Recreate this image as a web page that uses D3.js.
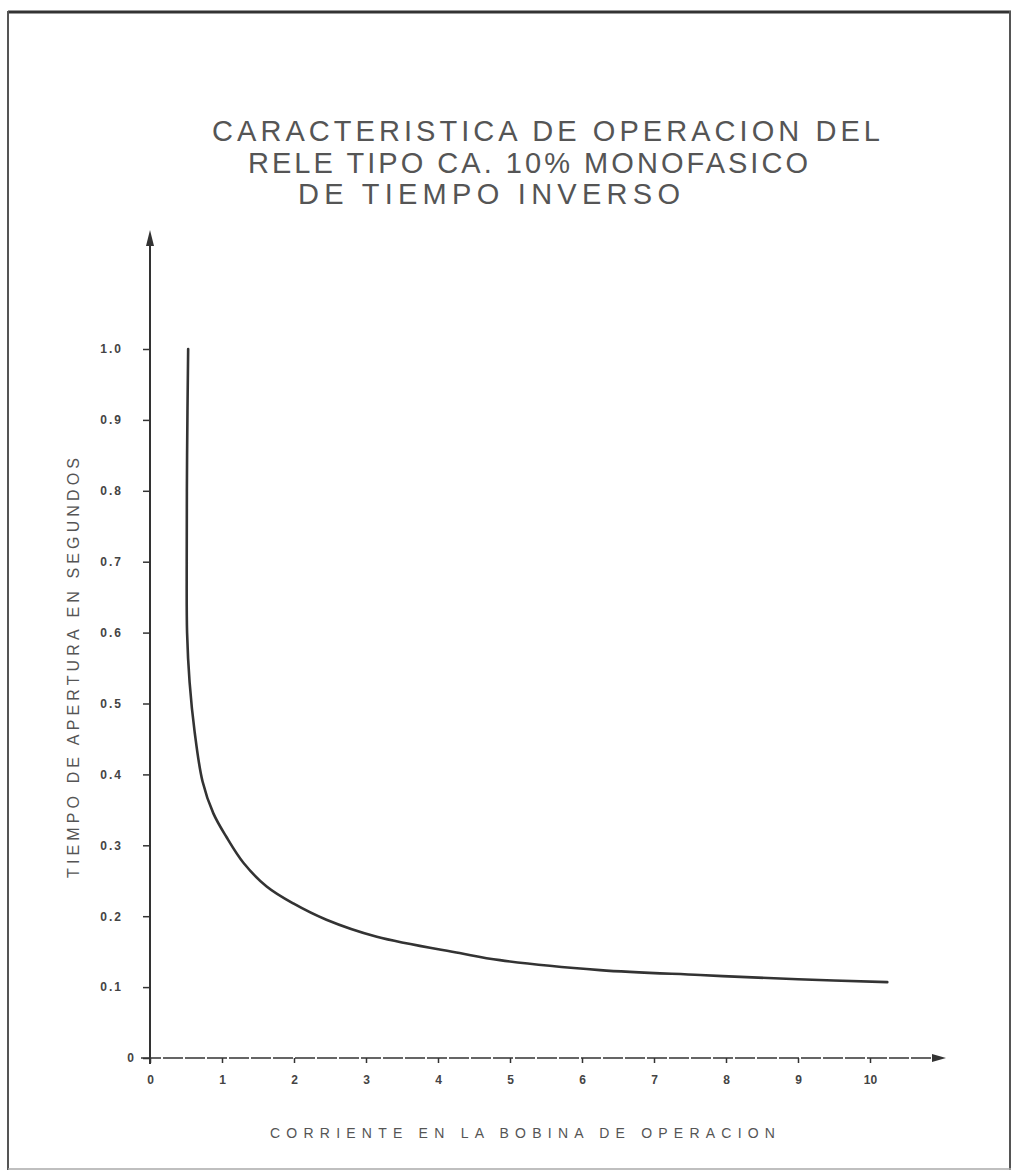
<!DOCTYPE html>
<html><head><meta charset="utf-8">
<script src="https://cdn.jsdelivr.net/npm/d3@7"></script>
<style>html,body{margin:0;padding:0;background:#fff;}svg{display:block;}</style>
</head><body>
<script>
// Data
const corriente = [0.53, 0.515, 0.51, 0.515, 0.55, 0.62, 0.73, 0.88, 1.06, 1.3, 1.62, 1.99, 2.45, 3.15, 4.3, 4.86, 6.25, 7.64, 9.0, 10.24];
const tiempo    = [1.0, 0.85, 0.7, 0.6, 0.53, 0.46, 0.39, 0.345, 0.312, 0.275, 0.242, 0.218, 0.195, 0.171, 0.148, 0.138, 0.124, 0.117, 0.111, 0.107];
const xTicks = [0,1,2,3,4,5,6,7,8,9,10];
const xTickLabels = ["0","1","2","3","4","5","6","7","8","9","10"];
const yTicks = [0,0.1,0.2,0.3,0.4,0.5,0.6,0.7,0.8,0.9,1.0];
const yTickLabels = ["0","0.1","0.2","0.3","0.4","0.5","0.6","0.7","0.8","0.9","1.0"];
const titleLines = ["CARACTERISTICA  DE  OPERACION  DEL", "RELE  TIPO  CA.  10%  MONOFASICO", "DE  TIEMPO  INVERSO"];
const xLabel = "CORRIENTE  EN  LA  BOBINA  DE  OPERACION";
const yLabel = "TIEMPO  DE  APERTURA  EN  SEGUNDOS";

const W = 1015, H = 1176;
const svg = d3.select("body").append("svg").attr("width", W).attr("height", H);

// page frame
svg.append("line").attr("x1",8).attr("x2",1011).attr("y1",12).attr("y2",12).attr("stroke","#333").attr("stroke-width",3);
svg.append("line").attr("x1",8).attr("x2",8).attr("y1",11).attr("y2",1170).attr("stroke","#555").attr("stroke-width",2);
svg.append("line").attr("x1",1010).attr("x2",1010).attr("y1",11).attr("y2",1170).attr("stroke","#555").attr("stroke-width",2);
svg.append("line").attr("x1",8).attr("x2",1011).attr("y1",1169).attr("y2",1169).attr("stroke","#aaa").attr("stroke-width",1.5);

const x = d3.scaleLinear().domain([0,10]).range([150, 870]);
const y = d3.scaleLinear().domain([0,1]).range([1058, 349]);

const font = "'Liberation Sans', Arial, sans-serif";

// title
const titleY = [141, 173, 204];
const titleX = [[212, 880], [248, 808], [298, 680]];
titleLines.forEach((t,i)=>{
  svg.append("text").attr("x", titleX[i][0]).attr("y", titleY[i])
    .attr("textLength", titleX[i][1]-titleX[i][0]).attr("lengthAdjust","spacing")
    .attr("font-family", font).attr("font-size", 29).attr("fill","#555")
    .text(t);
});

// axes lines
const axisColor = "#333";
svg.append("line").attr("x1", x(0)).attr("x2", x(0)).attr("y1", 240).attr("y2", y(0)+6)
  .attr("stroke", axisColor).attr("stroke-width", 2);
svg.append("path").attr("d", `M${x(0)},230 L${x(0)-4},246 L${x(0)+4},246 Z`).attr("fill", axisColor);
svg.append("line").attr("x1", x(0)-9).attr("x2", 935).attr("y1", y(0)).attr("y2", y(0))
  .attr("stroke", axisColor).attr("stroke-width", 1.6).attr("stroke-dasharray","20,2");
svg.append("path").attr("d", `M946,${y(0)} L932,${y(0)-4} L932,${y(0)+4} Z`).attr("fill", axisColor);

// y ticks
const yAxis = d3.axisLeft(y).tickValues(yTicks).tickSize(7).tickFormat((d,i)=>yTickLabels[i]).tickPadding(20);
const gy = svg.append("g").attr("transform", `translate(${x(0)},0)`).call(yAxis);
gy.select(".domain").remove();
gy.selectAll(".tick line").attr("stroke", axisColor).attr("stroke-width", 1.5);
gy.selectAll(".tick text").attr("font-family", font).attr("font-size", 12).attr("font-weight","bold")
  .attr("fill","#444").attr("letter-spacing", 2);
gy.selectAll(".tick").filter(d=>d===0).select("text").attr("x", -14);

// x ticks
const xAxis = d3.axisBottom(x).tickValues(xTicks).tickSize(5).tickFormat((d,i)=>xTickLabels[i]).tickPadding(12);
const gx = svg.append("g").attr("transform", `translate(0,${y(0)})`).call(xAxis);
gx.select(".domain").remove();
gx.selectAll(".tick line").attr("stroke", axisColor).attr("stroke-width", 1.5);
gx.selectAll(".tick text").attr("font-family", font).attr("font-size", 12).attr("font-weight","bold").attr("fill","#444");

// curve
const pts = corriente.map((c,i)=>[c, tiempo[i]]);
const line = d3.line().x(d=>x(d[0])).y(d=>y(d[1])).curve(d3.curveCatmullRom.alpha(0.5));
svg.append("path").datum(pts).attr("d", line).attr("fill","none")
  .attr("stroke","#333").attr("stroke-width",2.6).attr("stroke-linecap","round");

// axis labels
svg.append("text").attr("x", 270).attr("y", 1138).attr("textLength", 505).attr("lengthAdjust","spacing")
  .attr("font-family", font).attr("font-size", 14).attr("fill","#555").text(xLabel);
svg.append("text").attr("transform", "translate(79,878) rotate(-90)")
  .attr("textLength", 420).attr("lengthAdjust","spacing")
  .attr("font-family", font).attr("font-size", 16).attr("fill","#555").text(yLabel);
</script>
</body></html>
